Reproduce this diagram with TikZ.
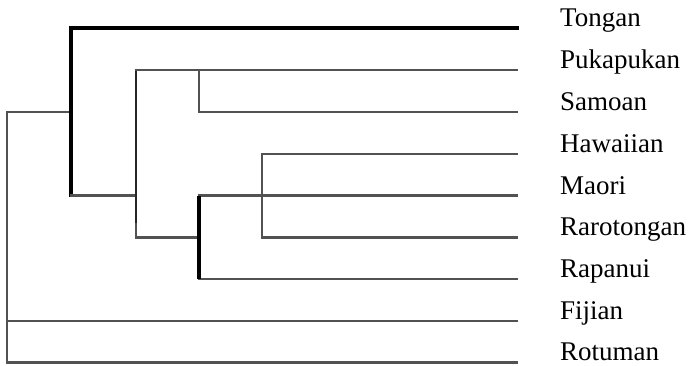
\documentclass[tikz,border=0pt]{standalone}
\usepackage{fontspec}
\newfontfamily\labfont{Liberation Serif}
\begin{document}
\begin{tikzpicture}[x=1pt,y=-1pt,
  gline/.style={draw=black!68,line width=2.2pt,line cap=rect},
  kline/.style={draw=black,line width=3.6pt,line cap=rect},
  lab/.style={anchor=base west,inner sep=0pt,font=\labfont\fontsize{27}{30}\selectfont}]
\useasboundingbox (0,0) rectangle (692,365);
% leaf tips
\coordinate (tTon) at (517,28);
\coordinate (tPuk) at (517,70);
\coordinate (tSam) at (517,111.75);
\coordinate (tHaw) at (517,153.6);
\coordinate (tMao) at (517,195.5);
\coordinate (tRar) at (517,237.4);
\coordinate (tRap) at (517,279.25);
\coordinate (tFij) at (517,321.1);
\coordinate (tRot) at (517,362.5);
% internal points
\coordinate (root) at (7,111.75);
\coordinate (aTop) at (71,28);
\coordinate (aMid) at (71,111.75);
\coordinate (aBot) at (71,195.5);
\coordinate (bTop) at (136,70);
\coordinate (bMid) at (136,195.5);
\coordinate (bBrk) at (136,222);
\coordinate (bBot) at (136,237.4);
\coordinate (cTop) at (199,70);
\coordinate (cBot) at (199,111.75);
\coordinate (dTop) at (199,195.5);
\coordinate (dMid) at (199,237.4);
\coordinate (dBot) at (199,279.25);
\coordinate (eTop) at (262,153.6);
\coordinate (eBot) at (262,237.4);
% labels
\node[lab] (Ton) at (560,26.5) {Tongan};
\node[lab] (Puk) at (560,68.5) {Pukapukan};
\node[lab] (Sam) at (560,110.25) {Samoan};
\node[lab] (Haw) at (560,152.1) {Hawaiian};
\node[lab] (Mao) at (560,194) {Maori};
\node[lab] (Rar) at (560,235.9) {Rarotongan};
\node[lab] (Rap) at (560,277.75) {Rapanui};
\node[lab] (Fij) at (560,319.6) {Fijian};
\node[lab] (Rot) at (560,360.3) {Rotuman};
% root and outgroups
\draw[gline] (aMid) -- (root) |- (tRot);
\draw[gline] (root |- tFij) -- (tFij);
% Tongan clade
\draw[kline] (aBot) -- (aTop) -- (tTon);
\draw[gline] (aBot) -- (bMid);
% x=136 bracket
\draw[gline] (bBrk) -- (bBot) -- (dMid);
\draw[draw=black!85,line width=2.6pt,line cap=rect] (bBrk) -- (bTop);
\draw[gline] (bTop) -- (tPuk);
% Samoan
\draw[gline] (cTop) -- (cBot) -- (tSam);
% lower clade
\draw[gline] (dTop) -- (tMao);
\draw[gline] (dBot) -- (tRap);
\draw[kline,line cap=butt] (dTop) -- (dBot);
% Hawaiian / Rarotongan
\draw[gline] (tHaw) -- (eTop) -- (eBot) -- (tRar);
\end{tikzpicture}
\end{document}
